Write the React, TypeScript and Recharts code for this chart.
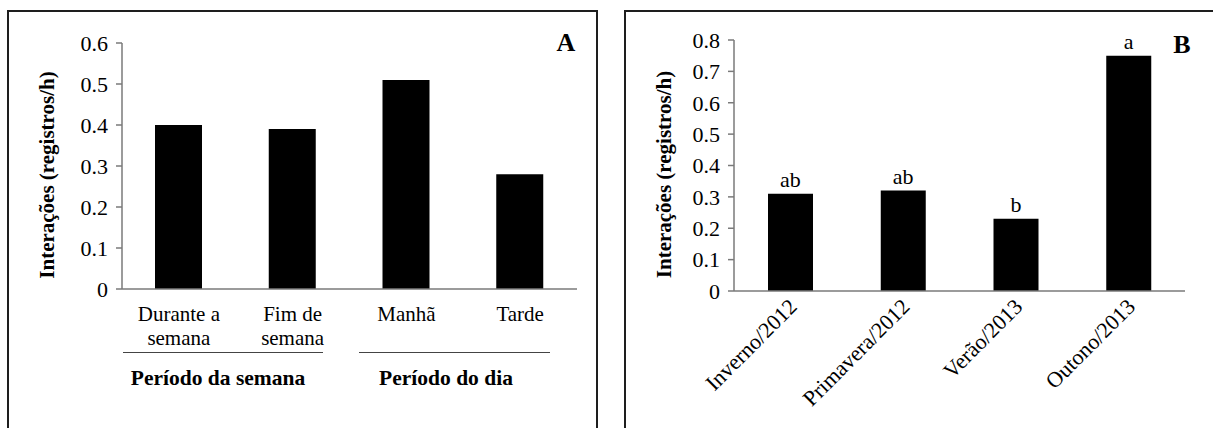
import { Bar, BarChart, Label, LabelList, XAxis, YAxis } from 'recharts';

const periodos = ['Durante a\nsemana', 'Fim de\nsemana', 'Manhã', 'Tarde'];
const interacoesPeriodo = [0.4, 0.39, 0.51, 0.28];
const ticksPeriodo = [0, 0.1, 0.2, 0.3, 0.4, 0.5, 0.6];
const grupos = ['Período da semana', 'Período do dia'];

const estacoes = ['Inverno/2012', 'Primavera/2012', 'Verão/2013', 'Outono/2013'];
const interacoesEstacao = [0.31, 0.32, 0.23, 0.75];
const letras = ['ab', 'ab', 'b', 'a'];
const ticksEstacao = [0, 0.1, 0.2, 0.3, 0.4, 0.5, 0.6, 0.7, 0.8];

const bordas = [0, 1, 2, 3, 4];
const tituloY = 'Interações (registros/h)';

const serif = 'Liberation Serif, Tinos, Times New Roman, Times, DejaVu Serif, serif';
const cinza = '#7a7a7a';
const corpo = 22;

const dadosA = periodos.map((nome, i) => ({ nome, v: interacoesPeriodo[i] }));
const dadosB = estacoes.map((nome, i) => ({ nome, v: interacoesEstacao[i], letra: letras[i] }));

const fmt = (v: number) => (v === 0 ? '0' : v.toFixed(1));

const TickPeriodo = ({ x, y, payload }: any) => {
  const linhas = String(payload.value).split('\n');
  return (
    <text x={x} y={y} textAnchor="middle" fontFamily={serif} fontSize={21} fill="#000">
      {linhas.map((l, i) => (
        <tspan key={i} x={x} dy={i === 0 ? 31 : 24}>{l}</tspan>
      ))}
    </text>
  );
};

const TickEstacao = ({ x, y, payload }: any) => (
  <text
    x={x + 8}
    y={y + 16}
    textAnchor="end"
    transform={`rotate(-45 ${x + 8} ${y + 16})`}
    fontFamily={serif}
    fontSize={corpo}
    fill="#000"
  >
    {payload.value}
  </text>
);

const tituloEixo = (recuo: number) => ({ viewBox }: any) => {
  const x = viewBox.x + viewBox.width - recuo;
  const y = viewBox.y + viewBox.height / 2 + 9;
  return (
    <text
      x={x}
      y={y}
      textAnchor="middle"
      transform={`rotate(-90 ${x} ${y})`}
      fontFamily={serif}
      fontWeight="bold"
      fontSize={21}
      fill="#000"
    >
      {tituloY}
    </text>
  );
};

const painel = (left: number, width: number): React.CSSProperties => ({
  position: 'absolute',
  left,
  top: 10,
  width,
  height: 440,
  border: '2px solid #1e1e1e',
  boxSizing: 'border-box',
});

const texto = (left: number, top: number, size: number): React.CSSProperties => ({
  position: 'absolute',
  left,
  top,
  transform: 'translate(-50%, -50%)',
  fontFamily: serif,
  fontWeight: 'bold',
  fontSize: size,
  lineHeight: 1,
  whiteSpace: 'nowrap',
  color: '#000',
});

const linha = (left: number, width: number): React.CSSProperties => ({
  position: 'absolute',
  left,
  top: 352,
  width,
  height: 0,
  borderTop: '1.5px solid #444',
});

export default function App() {
  return (
    <div style={{ position: 'absolute', left: 0, top: 0, width: 1213, height: 428, overflow: 'hidden', background: '#fff' }}>
      <div style={painel(7, 591)} />
      <div style={painel(624, 620)} />

      <div style={{ position: 'absolute', left: 0, top: 0 }}>
        <BarChart width={600} height={428} data={dadosA} margin={{ top: 43, right: 23, left: 52, bottom: 137 }}>
          <XAxis
            xAxisId="bordas"
            type="number"
            domain={[0, 4]}
            ticks={bordas}
            tick={false}
            height={1}
            tickSize={6}
            axisLine={{ stroke: cinza, strokeWidth: 1.5 }}
            tickLine={{ stroke: cinza, strokeWidth: 1.5 }}
          />
          <XAxis
            xAxisId="cat"
            dataKey="nome"
            height={1}
            axisLine={false}
            tickLine={false}
            tickSize={0}
            tickMargin={0}
            interval={0}
            tick={<TickPeriodo />}
          />
          <YAxis
            width={70}
            domain={[0, 0.6]}
            ticks={ticksPeriodo}
            tickFormatter={fmt}
            tickSize={6}
            tickMargin={8}
            axisLine={{ stroke: cinza, strokeWidth: 1.5 }}
            tickLine={{ stroke: cinza, strokeWidth: 1.5 }}
            tick={{ fontFamily: serif, fontSize: corpo, fill: '#000' }}
          >
            <Label content={tituloEixo(68)} />
          </YAxis>
          <Bar xAxisId="cat" dataKey="v" fill="#000" barSize={47} isAnimationActive={false} />
        </BarChart>
      </div>

      <div style={{ position: 'absolute', left: 600, top: 0 }}>
        <BarChart width={613} height={428} data={dadosB} margin={{ top: 40, right: 28, left: 64, bottom: 135 }}>
          <XAxis
            xAxisId="bordas"
            type="number"
            domain={[0, 4]}
            ticks={bordas}
            tick={false}
            height={1}
            tickSize={6}
            axisLine={{ stroke: cinza, strokeWidth: 1.5 }}
            tickLine={{ stroke: cinza, strokeWidth: 1.5 }}
          />
          <XAxis
            xAxisId="cat"
            dataKey="nome"
            height={1}
            axisLine={false}
            tickLine={false}
            tickSize={0}
            tickMargin={0}
            interval={0}
            tick={<TickEstacao />}
          />
          <YAxis
            width={70}
            domain={[0, 0.8]}
            ticks={ticksEstacao}
            tickFormatter={fmt}
            tickSize={6}
            tickMargin={8}
            axisLine={{ stroke: cinza, strokeWidth: 1.5 }}
            tickLine={{ stroke: cinza, strokeWidth: 1.5 }}
            tick={{ fontFamily: serif, fontSize: corpo, fill: '#000' }}
          >
            <Label content={tituloEixo(63)} />
          </YAxis>
          <Bar xAxisId="cat" dataKey="v" fill="#000" barSize={45} isAnimationActive={false}>
            <LabelList dataKey="letra" position="top" offset={7} fontFamily={serif} fontSize={corpo} fill="#000" />
          </Bar>
        </BarChart>
      </div>

      <div style={linha(123, 200)} />
      <div style={linha(359, 191)} />
      <div style={texto(218, 379, 21.5)}>{grupos[0]}</div>
      <div style={texto(446, 379, 21.5)}>{grupos[1]}</div>

      <div style={texto(566, 43, 26)}>A</div>
      <div style={texto(1182, 45, 26)}>B</div>
    </div>
  );
}
